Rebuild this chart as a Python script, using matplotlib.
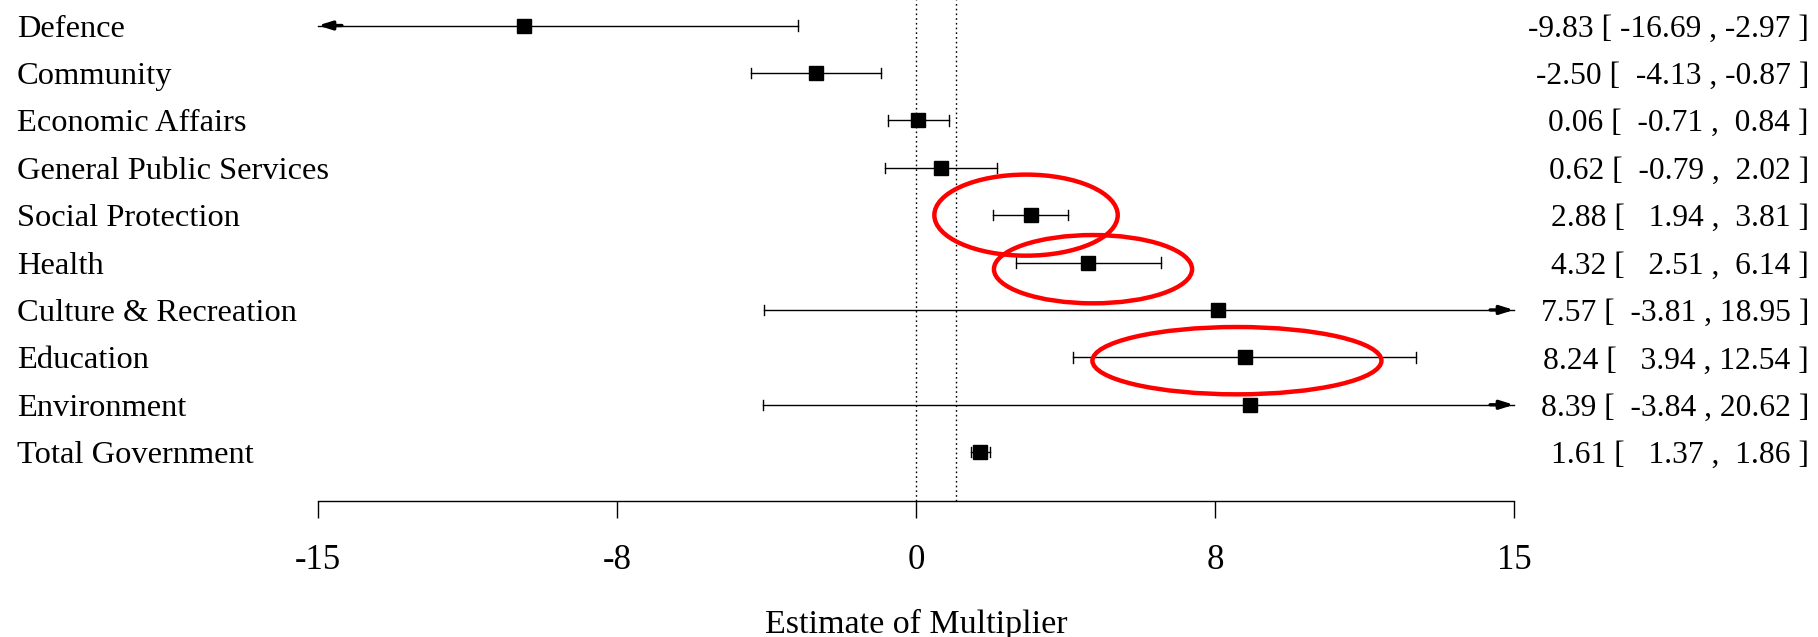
import matplotlib.pyplot as plt
from matplotlib.patches import Ellipse
from matplotlib.transforms import blended_transform_factory

plt.rcParams["font.family"] = ["Liberation Serif", "DejaVu Serif"]

categories = [
    "Defence",
    "Community",
    "Economic Affairs",
    "General Public Services",
    "Social Protection",
    "Health",
    "Culture & Recreation",
    "Education",
    "Environment",
    "Total Government",
]
estimate = [-9.83, -2.50, 0.06, 0.62, 2.88, 4.32, 7.57, 8.24, 8.39, 1.61]
ci_low = [-16.69, -4.13, -0.71, -0.79, 1.94, 2.51, -3.81, 3.94, -3.84, 1.37]
ci_high = [-2.97, -0.87, 0.84, 2.02, 3.81, 6.14, 18.95, 12.54, 20.62, 1.86]

x_ticks = [-15, -7.5, 0, 7.5, 15]
x_ticklabels = ["-15", "-8", "0", "8", "15"]
ref_lines = [0, 1]

# red highlight rings: (category, centre offset x, centre offset y, width, height)
highlights = [
    ("Social Protection", -0.12, 0.0, 4.6, 1.71),
    ("Health", 0.12, 0.14, 4.97, 1.44),
    ("Education", -0.19, 0.07, 7.25, 1.42),
]

XMIN, XMAX = -15, 15

fig = plt.figure(figsize=(18.18, 6.37), dpi=100)
ax = fig.add_axes([318 / 1818, 136 / 637, 1196 / 1818, 501 / 637])
ax.set_xlim(XMIN, XMAX)
ax.set_ylim(10.03, -0.538)

for x in ref_lines:
    ax.axvline(x, color="black", linestyle=(0, (1.2, 2.2)), linewidth=1.0, zorder=1)

for i, (est, lo, hi) in enumerate(zip(estimate, ci_low, ci_high)):
    lo_c = max(lo, XMIN)
    hi_c = min(hi, XMAX)
    ax.plot([lo_c, hi_c], [i, i], color="black", linewidth=1.0, clip_on=False, zorder=2)
    for val, clipped, sign in ((lo, lo_c, -1), (hi, hi_c, 1)):
        if val == clipped:
            ax.plot([clipped, clipped], [i - 0.11, i + 0.11], color="black",
                    linewidth=1.0, clip_on=False, zorder=2)
        else:
            ax.annotate("", xy=(clipped, i), xytext=(clipped - sign * 0.6, i),
                        arrowprops=dict(arrowstyle="-|>,head_length=0.8,head_width=0.25",
                                        color="black", lw=2.4, shrinkA=0, shrinkB=0),
                        annotation_clip=False, zorder=3)
    ax.plot(est, i, marker="s", markersize=10, color="black", zorder=4)

for name, dx, dy, w, h in highlights:
    i = categories.index(name)
    ax.add_patch(Ellipse((estimate[i] + dx, i + dy), w, h, fill=False,
                         edgecolor="#ff0000", linewidth=3.2, zorder=5, clip_on=False))

trans = blended_transform_factory(fig.transFigure, ax.transData)
for i, name in enumerate(categories):
    ax.text(17 / 1818, i, name, transform=trans, ha="left", va="center_baseline",
            fontsize=23.4, color="black")
    label = f"{estimate[i]:.2f} [{ci_low[i]:7.2f} ,{ci_high[i]:6.2f} ]"
    ax.text(1809 / 1818, i, label, transform=trans, ha="right", va="center_baseline",
            fontsize=22.7, color="black")

for s in ("top", "right", "left"):
    ax.spines[s].set_visible(False)
ax.spines["bottom"].set_linewidth(1.0)
ax.spines["bottom"].set_bounds(XMIN, XMAX)
ax.set_yticks([])
ax.set_xticks(x_ticks)
ax.set_xticklabels(x_ticklabels, fontsize=25)
ax.tick_params(axis="x", direction="out", length=12, width=1.0, pad=19)
ax.set_xlabel("Estimate of Multiplier", fontsize=24.5, labelpad=23)

fig.savefig("out.png", dpi=100)
